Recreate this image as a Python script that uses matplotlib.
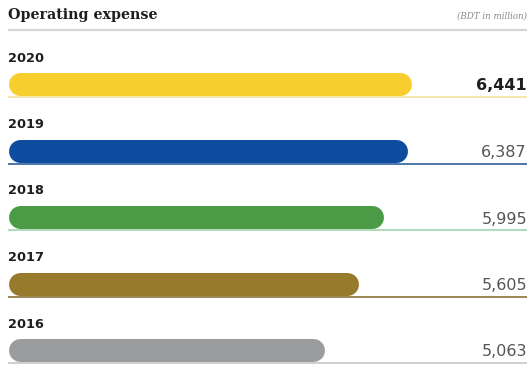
import matplotlib

matplotlib.use("Agg")
import matplotlib.pyplot as plt

years = ["2020", "2019", "2018", "2017", "2016"]
expense = [6441, 6387, 5995, 5605, 5063]
value_labels = ["6,441", "6,387", "5,995", "5,605", "5,063"]
bar_colors = ["#f8cd2e", "#0d4c9f", "#4a9a46", "#977a2c", "#9a9c9e"]
rule_colors = ["#f5e3a0", "#2f5f9c", "#a3d6ac", "#8a7334", "#c4c6c8"]

W, H = 531, 366
LEFT = 8
PX_PER_UNIT = 403 / 6441  # bar length in pixels per BDT million
BAR_H = 23
ROW_TOP = 57
ROW_STEP = 66.5

fig = plt.figure(figsize=(W / 100, H / 100), dpi=100, facecolor="white")
ax = fig.add_axes([0, 0, 1, 1])
ax.set_xlim(-LEFT / PX_PER_UNIT, (W - LEFT) / PX_PER_UNIT)
ax.set_ylim(H, 0)
ax.axis("off")

x_right = (W - LEFT - 4) / PX_PER_UNIT
cap = (BAR_H / 2) / PX_PER_UNIT
lw_pt = BAR_H * 72 / 100

ax.text(0, 15, "Operating expense", fontfamily="DejaVu Serif", fontweight="bold",
        fontsize=10.3, color="#1e1e1e", va="center", ha="left")
ax.text(x_right, 16, "(BDT in million)", fontfamily="DejaVu Serif", style="italic",
        fontsize=6.3, color="#8a8a8a", va="center", ha="right")
ax.plot([0, x_right], [30, 30], color="#d4d4d4", linewidth=1.6, solid_capstyle="butt")

for i, (year, val, label) in enumerate(zip(years, expense, value_labels)):
    top = ROW_TOP + i * ROW_STEP
    yc = top + 27
    ax.text(0, top + 1, year, fontfamily="DejaVu Sans", fontweight="bold",
            fontsize=9.3, color="#1e1e1e", va="center", ha="left")
    ax.plot([cap, val - cap], [yc, yc], color=bar_colors[i], linewidth=lw_pt,
            solid_capstyle="round")
    ax.plot([0, x_right], [yc + 13, yc + 13], color=rule_colors[i],
            linewidth=1.2, solid_capstyle="butt")
    ax.text(x_right, yc + 2, label, fontfamily="DejaVu Sans",
            fontweight="bold" if i == 0 else "normal",
            fontsize=11.5, color="#1e1e1e" if i == 0 else "#555555",
            va="center", ha="right")

fig.savefig("out.png", dpi=100, facecolor="white")
plt.close(fig)
